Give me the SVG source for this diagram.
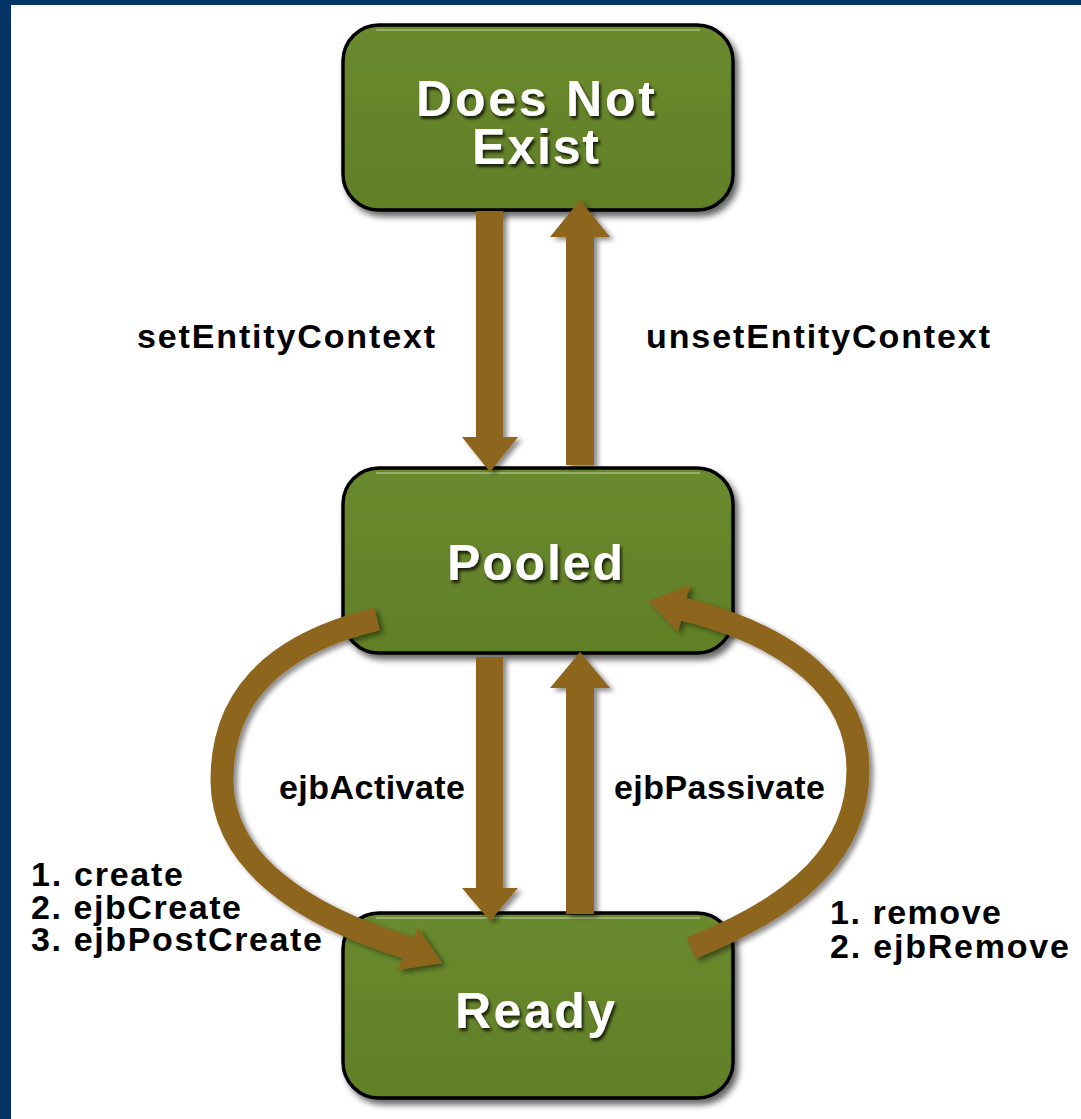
<svg xmlns="http://www.w3.org/2000/svg" width="1081" height="1119" viewBox="0 0 1081 1119">
<defs>
<style>
.node rect.box{fill:url(#g);stroke:#000;stroke-width:3.5}
.node .hl{fill:none;stroke:#b8c69a;stroke-width:2;opacity:.6}
.title{font-family:"Liberation Sans",Arial,sans-serif;font-weight:bold;font-size:50px;fill:#fff;text-anchor:middle}
.lbl{font-family:"Liberation Sans",Arial,sans-serif;font-weight:bold;font-size:34px;fill:#000}
.arr{fill:#8d651a}
.curve{fill:none;stroke:#8d651a;stroke-width:23;stroke-linecap:butt}
</style>
<linearGradient id="g" x1="0" y1="0" x2="0" y2="1">
<stop offset="0" stop-color="#6a8a2e"/>
<stop offset="1" stop-color="#617f27"/>
</linearGradient>
<filter id="ns" x="-10%" y="-10%" width="125%" height="130%">
<feDropShadow dx="4" dy="5" stdDeviation="3" flood-color="#000" flood-opacity="0.6"/>
</filter>
<filter id="as" x="-20%" y="-20%" width="150%" height="150%">
<feDropShadow dx="4" dy="3" stdDeviation="2.5" flood-color="#000" flood-opacity="0.45"/>
</filter>
<filter id="ts" x="-10%" y="-20%" width="130%" height="150%">
<feDropShadow dx="2" dy="3" stdDeviation="1.5" flood-color="#000" flood-opacity="0.75"/>
</filter>
</defs>
<rect width="1081" height="1119" fill="#fff"/>
<g id="frame" fill="#043466">
<rect x="0" y="0" width="1081" height="5"/>
<rect x="0" y="0" width="11" height="1119"/>
</g>
<g id="node-does-not-exist" class="node">
<rect class="box" x="343" y="25" width="390" height="185" rx="36" filter="url(#ns)"/>
<path class="hl" d="M376 30 H700"/>
<text class="title" x="535.5" y="116" textLength="239" lengthAdjust="spacing" filter="url(#ts)">Does Not</text>
<text class="title" x="535.5" y="164" textLength="127" lengthAdjust="spacing" filter="url(#ts)">Exist</text>
</g>
<g id="node-pooled" class="node">
<rect class="box" x="343" y="468" width="390" height="185" rx="36" filter="url(#ns)"/>
<path class="hl" d="M376 473 H700"/>
<text class="title" x="535" y="580" textLength="176" lengthAdjust="spacing" filter="url(#ts)">Pooled</text>
</g>
<g id="node-ready" class="node">
<rect class="box" x="343" y="913" width="390" height="185" rx="36" filter="url(#ns)"/>
<path class="hl" d="M376 918 H700"/>
<text class="title" x="535" y="1028" textLength="160" lengthAdjust="spacing" filter="url(#ts)">Ready</text>
</g>
<g id="connectors">
<g id="e-setEntityContext" filter="url(#as)">
<polygon class="arr" points="476,211 503,211 503,437 518,437 490,472 462,437 476,437"/>
</g>
<g id="e-unsetEntityContext" filter="url(#as)">
<polygon class="arr" points="566,465 594,465 594,237 610,237 580,200 550,237 566,237"/>
</g>
<g id="e-ejbActivate" filter="url(#as)">
<polygon class="arr" points="476,657 503,657 503,888 518,888 490,921 462,888 476,888"/>
</g>
<g id="e-ejbPassivate" filter="url(#as)">
<polygon class="arr" points="566,914 594,914 594,688 610,688 580,652 550,688 566,688"/>
</g>
<g id="e-create" filter="url(#as)">
<path class="curve" d="M377 619 C270 645 222 700 222 780 C222 860 300 915 409 948"/>
<polygon class="arr" points="442,963 418,928 397,970"/>
</g>
<g id="e-remove" filter="url(#as)">
<path class="curve" d="M691 948 C800 905 858 850 858 770 C858 690 790 635 682 609"/>
<polygon class="arr" points="648,601 690,585 678,632"/>
</g>
</g>
<g id="labels">
<text class="lbl" x="137" y="348" textLength="298" lengthAdjust="spacing">setEntityContext</text>
<text class="lbl" x="646" y="348" textLength="344" lengthAdjust="spacing">unsetEntityContext</text>
<text class="lbl" x="279" y="799" textLength="186" lengthAdjust="spacing">ejbActivate</text>
<text class="lbl" x="614" y="799" textLength="211" lengthAdjust="spacing">ejbPassivate</text>
<text class="lbl" x="31" y="886" textLength="152" lengthAdjust="spacing">1. create</text>
<text class="lbl" x="31" y="919" textLength="210" lengthAdjust="spacing">2. ejbCreate</text>
<text class="lbl" x="31" y="951" textLength="291" lengthAdjust="spacing">3. ejbPostCreate</text>
<text class="lbl" x="830" y="924" textLength="171" lengthAdjust="spacing">1. remove</text>
<text class="lbl" x="830" y="958" textLength="239" lengthAdjust="spacing">2. ejbRemove</text>
</g>
</svg>
